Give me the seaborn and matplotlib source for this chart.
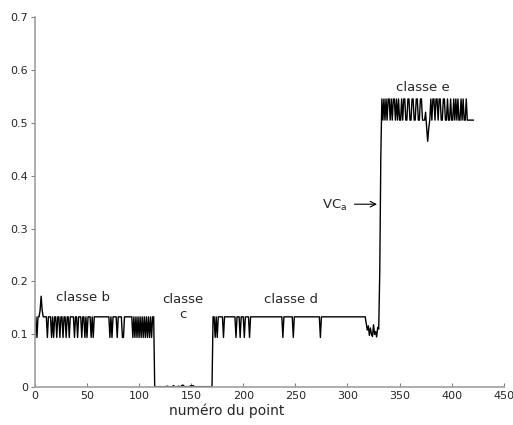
import numpy as np
import pandas as pd
import seaborn as sns
from matplotlib import pyplot as plt

# levels
H = 0.133
L = 0.094
A = 0.545
B = 0.505

# classe b: points 0..114
classe_b = [L, H, L, H, H, 0.145, 0.172, 0.145, H, H, H, H, L, H, H, H, L, H, L, H,
            H, L, H, H, L, H, H, L, H, H, L, H, H, L, H, H, H, H, L, H,
            H, L, H, H, H, L, H, H, L, H, L, H, H, H, L, H, L, H] + [H] * 14 + \
           [L, H, L, H, H, H, H, L, H, H, H, H, L, L] + [H] * 8 + \
           [L, H, L, H, L, H, L, H, L, H, L, H, L, H, L, H, L, H, L, H, H]

# classe c: points 115..170, almost zero
classe_c = [0.0, 0.001, 0.001, 0.0, 0.001, 0.001, 0.001, 0.0, 0.001, 0.001,
            0.001, 0.001, 0.002, 0.001, 0.001, 0.001, 0.001, 0.001, 0.003, 0.001,
            0.001, 0.001, 0.001, 0.002, 0.001, 0.001, 0.003, 0.004, 0.002, 0.001,
            0.001, 0.001, 0.001, 0.001, 0.002, 0.003, 0.002, 0.003, 0.001, 0.001,
            0.001, 0.001, 0.001, 0.001, 0.001, 0.001, 0.001, 0.001, 0.001, 0.001,
            0.001, 0.001, 0.001, 0.001, 0.001, 0.001]

# classe d: points 171..317
classe_d = [H, H, L, H, L, H, H, H, H, H, L] + [H] * 11 + \
           [L, H, H, H, L, H, H, H, L, H, H, H, H, L] + [H] * 31 + [L] + [H] * 9 + \
           [L] + [H] * 25 + [L] + [H] * 43

# transition towards VCa: points 318..332
transition = [0.12, 0.108, 0.116, 0.098, 0.112, 0.1, 0.096, 0.118, 0.1, 0.105,
              0.095, 0.113, 0.11, 0.22, 0.436]

# classe e: points 333..420
classe_e = [A, B, A, B, A, B, A, A, B, A, B, A, A, B, A, B, A, B, B, A,
            B, A, A, B, B, A, A, B, B, A, A, B, B, A, A, B, B, A, A, B,
            B, B, 0.52, 0.49, 0.465, 0.49, B, A, B, A, A, B, A, A, B, A, A, B, B, A,
            A, B, B, A, B, B, A, B, B, A, B, A, B, A, B, B, A, B, A, B, B, A, B] + [B] * 6

values = classe_b + classe_c + classe_d + transition + classe_e
df = pd.DataFrame({'point': np.arange(len(values)), 'valeur': values})

sns.set_style('white')
plt.rcParams['font.family'] = ['DejaVu Sans']

fig = plt.figure(figsize=(5.13, 4.25), dpi=100)
ax = fig.add_axes([0.068, 0.089, 0.914, 0.871])
sns.lineplot(data=df, x='point', y='valeur', color='black', linewidth=1.0, ax=ax)

ax.set_xlim(0, 450)
ax.set_ylim(0, 0.7)
ax.set_xticks(np.arange(0, 451, 50))
ax.set_yticks(np.arange(0, 0.71, 0.1))
ax.set_yticklabels(['0', '0.1', '0.2', '0.3', '0.4', '0.5', '0.6', '0.7'])
ax.set_xlabel('numéro du point', fontsize=10)
ax.set_ylabel('')
ax.xaxis.set_label_coords(0.41, -0.045)

for side in ['top', 'right']:
    ax.spines[side].set_visible(False)
for side in ['left', 'bottom']:
    ax.spines[side].set_color('#a0a0a0')
    ax.spines[side].set_linewidth(1.2)
ax.tick_params(axis='x', direction='in', length=3, color='#808080', labelsize=8, pad=3)
ax.tick_params(axis='y', direction='out', length=3, color='#808080', labelsize=8, pad=2)
ax.tick_params(left=True, bottom=True)

ax.text(46, 0.17, 'classe b', fontsize=9.5, ha='center', va='center')
ax.text(142, 0.152, 'classe\nc', fontsize=9.5, ha='center', va='center', linespacing=1.2)
ax.text(246, 0.165, 'classe d', fontsize=9.5, ha='center', va='center')
ax.text(372, 0.567, 'classe e', fontsize=9.5, ha='center', va='center')
ax.text(288, 0.344, 'VC$_\\mathrm{a}$', fontsize=9.5, ha='center', va='center')
ax.annotate('', xy=(331, 0.346), xytext=(304, 0.346),
            arrowprops=dict(arrowstyle='->', color='black', lw=0.8))

fig.savefig('out.png', dpi=100)
